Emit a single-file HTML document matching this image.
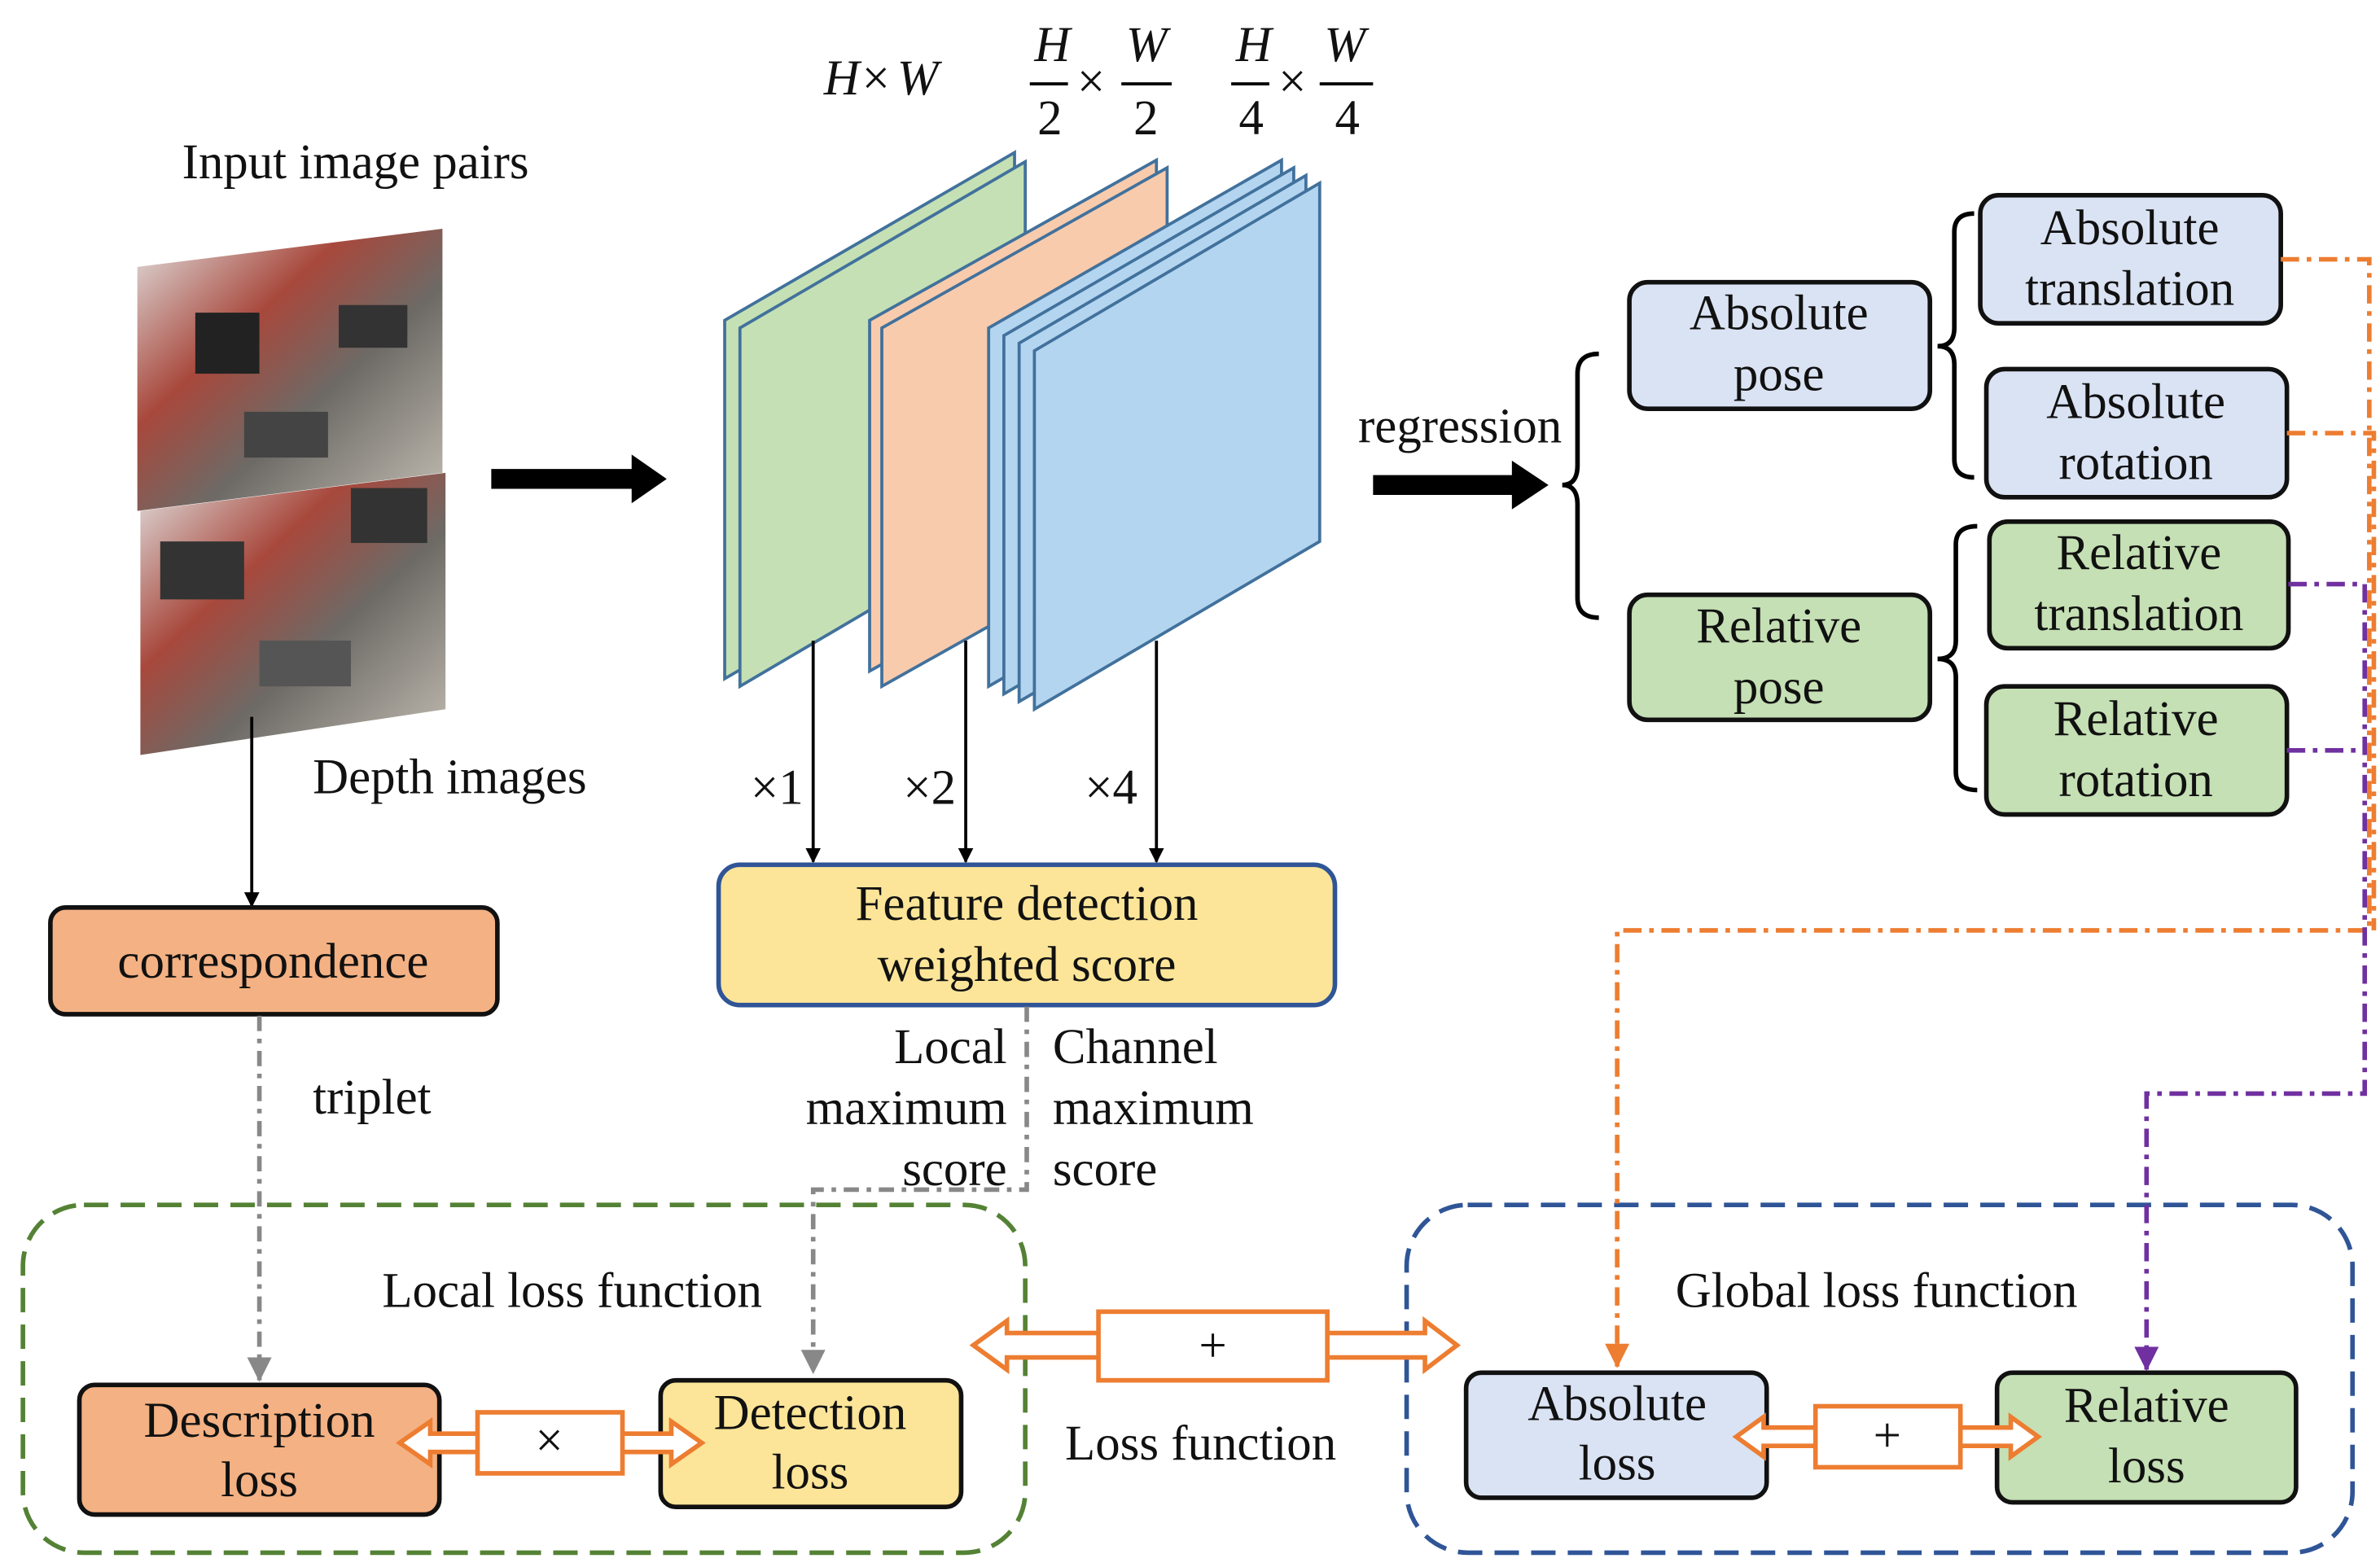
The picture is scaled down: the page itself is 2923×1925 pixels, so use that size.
<!DOCTYPE html>
<html><head><meta charset="utf-8"><style>
html,body{margin:0;padding:0;background:#fff}
svg{display:block}
text{font-family:"Liberation Serif",serif;font-size:32.5px;fill:#111}
</style></head><body>
<svg width="2923" height="1925" viewBox="0 0 1560 1027.4" xmlns="http://www.w3.org/2000/svg">
<defs>
<marker id="ab" markerWidth="10" markerHeight="10" refX="9" refY="5" orient="auto" markerUnits="userSpaceOnUse" viewBox="0 0 10 10"><path d="M0,0L10,5L0,10z" fill="#000"/></marker>
<marker id="ag" markerWidth="16" markerHeight="16" refX="15" refY="8" orient="auto" markerUnits="userSpaceOnUse" viewBox="0 0 16 16"><path d="M0,0L16,8L0,16z" fill="#888"/></marker>
<marker id="ao" markerWidth="16" markerHeight="16" refX="15" refY="8" orient="auto" markerUnits="userSpaceOnUse" viewBox="0 0 16 16"><path d="M0,0L16,8L0,16z" fill="#ed7d31"/></marker>
<marker id="ap" markerWidth="16" markerHeight="16" refX="15" refY="8" orient="auto" markerUnits="userSpaceOnUse" viewBox="0 0 16 16"><path d="M0,0L16,8L0,16z" fill="#7030a0"/></marker>
<linearGradient id="ph" x1="0" y1="0" x2="1" y2="1"><stop offset="0" stop-color="#e2e4e4"/><stop offset="0.35" stop-color="#a8483c"/><stop offset="0.6" stop-color="#6d6a66"/><stop offset="1" stop-color="#c4bfb4"/></linearGradient>
</defs>

<text x="540" y="62" font-style="italic">H</text><text x="565" y="62">×</text><text x="588" y="62" font-style="italic">W</text>
<text x="678" y="40" font-style="italic">H</text><line x1="675" y1="55" x2="700" y2="55" stroke="#000" stroke-width="2"/><text x="680" y="88">2</text>
<text x="706" y="64">×</text>
<text x="738" y="40" font-style="italic">W</text><line x1="735" y1="55" x2="768" y2="55" stroke="#000" stroke-width="2"/><text x="743" y="88">2</text>
<text x="810" y="40" font-style="italic">H</text><line x1="807" y1="55" x2="832" y2="55" stroke="#000" stroke-width="2"/><text x="812" y="88">4</text>
<text x="838" y="64">×</text>
<text x="868" y="40" font-style="italic">W</text><line x1="865" y1="55" x2="900" y2="55" stroke="#000" stroke-width="2"/><text x="875" y="88">4</text>

<text x="233" y="117" text-anchor="middle">Input image pairs</text>
<polygon points="90,175 290,150 290,310 90,335" fill="url(#ph)"/>
<polygon points="92,335 292,310 292,465 92,495" fill="url(#ph)"/>
<rect x="128" y="205" width="42" height="40" fill="#222"/>
<rect x="222" y="200" width="45" height="28" fill="#333"/>
<rect x="160" y="270" width="55" height="30" fill="#444"/>
<rect x="105" y="355" width="55" height="38" fill="#333"/>
<rect x="230" y="320" width="50" height="36" fill="#333"/>
<rect x="170" y="420" width="60" height="30" fill="#555"/>

<line x1="322" y1="314" x2="418" y2="314" stroke="#000" stroke-width="13"/>
<polygon points="414,298 437,314 414,330" fill="#000"/>
<line x1="900" y1="318" x2="995" y2="318" stroke="#000" stroke-width="13"/>
<polygon points="991,302 1015,318 991,334" fill="#000"/>

<g stroke="#41719c" stroke-width="2">
<polygon points="475,210 665,100 665,335 475,445" fill="#c5e0b4"/>
<polygon points="485,215 672,106 672,340 485,450" fill="#c5e0b4"/>
<polygon points="570,210 758,105 758,335 570,440" fill="#f8cbad"/>
<polygon points="578,215 765,110 765,345 578,450" fill="#f8cbad"/>
<polygon points="648,215 840,105 840,340 648,450" fill="#b4d5ef"/>
<polygon points="658,220 848,110 848,345 658,455" fill="#b4d5ef"/>
<polygon points="668,225 856,115 856,350 668,460" fill="#b4d5ef"/>
<polygon points="678,230 865,120 865,355 678,465" fill="#b4d5ef"/>
</g>

<g stroke="#000" stroke-width="2" fill="none">
<line x1="533" y1="420" x2="533" y2="565" marker-end="url(#ab)"/>
<line x1="633" y1="420" x2="633" y2="565" marker-end="url(#ab)"/>
<line x1="758" y1="420" x2="758" y2="565" marker-end="url(#ab)"/>
<line x1="165" y1="470" x2="165" y2="594" marker-end="url(#ab)"/>
</g>
<text x="492" y="527">×1</text><text x="592" y="527">×2</text><text x="711" y="527">×4</text>
<text x="205" y="520">Depth images</text>

<rect x="471" y="567" width="404" height="92" rx="14" fill="#fce598" stroke="#2f5597" stroke-width="3"/>
<text x="673" y="603" text-anchor="middle">Feature detection</text>
<text x="673" y="643" text-anchor="middle">weighted score</text>

<rect x="33" y="595" width="293" height="70" rx="10" fill="#f4b183" stroke="#111" stroke-width="3"/>
<text x="179" y="641" text-anchor="middle">correspondence</text>

<g stroke="#888" stroke-width="3" fill="none" stroke-dasharray="10,5,3,5">
<polyline points="673,660 673,780 533,780 533,900" marker-end="url(#ag)"/>
<line x1="170" y1="666" x2="170" y2="905" marker-end="url(#ag)"/>
</g>
<text x="660" y="697" text-anchor="end">Local</text><text x="660" y="737" text-anchor="end">maximum</text><text x="660" y="777" text-anchor="end">score</text>
<text x="690" y="697">Channel</text><text x="690" y="737">maximum</text><text x="690" y="777">score</text>
<text x="205" y="730">triplet</text>

<rect x="15" y="790" width="657" height="228" rx="40" fill="none" stroke="#548235" stroke-width="3" stroke-dasharray="16,8"/>
<text x="375" y="857" text-anchor="middle">Local loss function</text>
<rect x="52" y="908" width="236" height="85" rx="10" fill="#f4b183" stroke="#111" stroke-width="3"/>
<text x="170" y="942" text-anchor="middle">Description</text><text x="170" y="981" text-anchor="middle">loss</text>
<rect x="433" y="905" width="197" height="83" rx="10" fill="#fce598" stroke="#111" stroke-width="3"/>
<text x="531" y="937" text-anchor="middle">Detection</text><text x="531" y="976" text-anchor="middle">loss</text>

<rect x="922" y="790" width="620" height="228" rx="40" fill="none" stroke="#2f5597" stroke-width="3" stroke-dasharray="16,8"/>
<text x="1230" y="857" text-anchor="middle">Global loss function</text>
<rect x="961" y="900" width="197" height="82" rx="10" fill="#dae3f3" stroke="#111" stroke-width="3"/>
<text x="1060" y="931" text-anchor="middle">Absolute</text><text x="1060" y="970" text-anchor="middle">loss</text>
<rect x="1309" y="900" width="196" height="85" rx="10" fill="#c5e0b4" stroke="#111" stroke-width="3"/>
<text x="1407" y="932" text-anchor="middle">Relative</text><text x="1407" y="972" text-anchor="middle">loss</text>

<g fill="#fff" stroke="#ed7d31" stroke-width="3">
<polygon points="262,946 282,932 282,940 440,940 440,932 460,946 440,960 440,952 282,952 282,960"/>
<rect x="313" y="926" width="95" height="40"/>
<polygon points="638,882 660,866 660,874 934,874 934,866 955,882 934,898 934,890 660,890 660,898"/>
<rect x="720" y="860" width="150" height="45"/>
<polygon points="1138,942 1156,929 1156,936 1318,936 1318,929 1336,942 1318,955 1318,948 1156,948 1156,955"/>
<rect x="1190" y="922" width="95" height="40"/>
</g>
<text x="360" y="955" text-anchor="middle">×</text>
<text x="795" y="893" text-anchor="middle">+</text>
<text x="1237" y="952" text-anchor="middle">+</text>
<text x="787" y="957" text-anchor="middle">Loss function</text>

<text x="957" y="290" text-anchor="middle">regression</text>
<g stroke="#000" stroke-width="3" fill="none">
<path d="M1048,232 Q1034,232 1034,245 L1034,305 Q1034,318 1024,318 Q1034,318 1034,331 L1034,392 Q1034,405 1048,405"/>
<path d="M1294,140 Q1281,140 1281,152 L1281,215 Q1281,227 1270,227 Q1281,227 1281,239 L1281,301 Q1281,313 1294,313"/>
<path d="M1296,345 Q1282,345 1282,357 L1282,420 Q1282,432 1270,432 Q1282,432 1282,444 L1282,506 Q1282,518 1296,518"/>
</g>
<rect x="1068" y="185" width="197" height="83" rx="12" fill="#dae3f3" stroke="#111" stroke-width="3"/>
<text x="1166" y="216" text-anchor="middle">Absolute</text><text x="1166" y="256" text-anchor="middle">pose</text>
<rect x="1068" y="390" width="197" height="82" rx="12" fill="#c5e0b4" stroke="#111" stroke-width="3"/>
<text x="1166" y="421" text-anchor="middle">Relative</text><text x="1166" y="461" text-anchor="middle">pose</text>
<rect x="1298" y="128" width="197" height="84" rx="12" fill="#dae3f3" stroke="#111" stroke-width="3"/>
<text x="1396" y="160" text-anchor="middle">Absolute</text><text x="1396" y="200" text-anchor="middle">translation</text>
<rect x="1302" y="242" width="197" height="84" rx="12" fill="#dae3f3" stroke="#111" stroke-width="3"/>
<text x="1400" y="274" text-anchor="middle">Absolute</text><text x="1400" y="314" text-anchor="middle">rotation</text>
<rect x="1304" y="342" width="196" height="83" rx="12" fill="#c5e0b4" stroke="#111" stroke-width="3"/>
<text x="1402" y="373" text-anchor="middle">Relative</text><text x="1402" y="413" text-anchor="middle">translation</text>
<rect x="1302" y="450" width="197" height="84" rx="12" fill="#c5e0b4" stroke="#111" stroke-width="3"/>
<text x="1400" y="482" text-anchor="middle">Relative</text><text x="1400" y="522" text-anchor="middle">rotation</text>

<g stroke-width="3" fill="none" stroke-dasharray="12,5,3,5">
<polyline points="1495,170 1553,170 1553,610 1060,610 1060,896" stroke="#ed7d31" marker-end="url(#ao)"/>
<polyline points="1499,284 1556,284 1556,610" stroke="#ed7d31"/>
<polyline points="1500,383 1550,383 1550,717 1407,717 1407,898" stroke="#7030a0" marker-end="url(#ap)"/>
<polyline points="1499,492 1550,492" stroke="#7030a0"/>
</g>
</svg>
</body></html>
